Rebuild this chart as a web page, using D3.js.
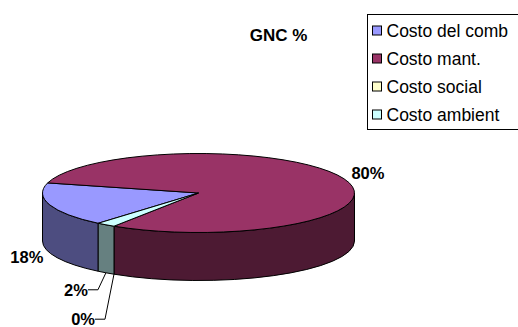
<!DOCTYPE html>
<html>
<head>
<meta charset="utf-8">
<script src="https://cdn.jsdelivr.net/npm/d3@7"></script>
<style>
  body { margin: 0; background: #fff; }
  text { font-family: "Liberation Sans", Arial, sans-serif; }
</style>
</head>
<body>
<svg id="chart"></svg>
<script>
// Chart data
const categories = ["Costo del comb", "Costo mant.", "Costo social", "Costo ambient"];
const values = [18, 80, 0, 2];
const valueLabels = ["18%", "80%", "0%", "2%"];
const topColors = ["#9999FF", "#993366", "#FFFFCC", "#CCFFFF"];
const sideColors = ["#4D4D80", "#4D1A33", "#808066", "#668080"];

const width = 518, height = 327;
const svg = d3.select("#chart").attr("width", width).attr("height", height);

// Ellipse geometry of the pie
const cx = 198.5, cy = 193, rx = 156, ry = 39.5, depth = 48;
const startDeg = 220;

const pie = d3.pie().sort(null).value(d => d)
    .startAngle(startDeg * Math.PI / 180)
    .endAngle(startDeg * Math.PI / 180 + 2 * Math.PI);
const slices = pie(values);

// project a compass angle (clockwise from 12 o'clock) onto the ellipse
const px = a => cx + rx * Math.sin(a);
const py = (a, dz = 0) => cy - ry * Math.cos(a) + dz;

function topPath(s) {
    const large = (s.endAngle - s.startAngle) > Math.PI ? 1 : 0;
    return `M${cx},${cy} L${px(s.startAngle)},${py(s.startAngle)} ` +
        `A${rx},${ry} 0 ${large} 1 ${px(s.endAngle)},${py(s.endAngle)} Z`;
}

// front wall pieces: the part of the arc in the lower half of the ellipse
function sidePaths(s) {
    const out = [];
    [Math.PI / 2, Math.PI * 2.5].forEach(lo => {
        const hi = lo + Math.PI;
        const a0 = Math.max(s.startAngle, lo), a1 = Math.min(s.endAngle, hi);
        if (a1 - a0 > 1e-4) {
            out.push(`M${px(a0)},${py(a0)} A${rx},${ry} 0 0 1 ${px(a1)},${py(a1)} ` +
                `L${px(a1)},${py(a1, depth)} A${rx},${ry} 0 0 0 ${px(a0)},${py(a0, depth)} Z`);
        }
    });
    return out;
}

// walls first, then the top faces
slices.forEach((s, i) => {
    sidePaths(s).forEach(p => {
        svg.append("path").attr("d", p)
            .attr("fill", sideColors[i])
            .attr("stroke", "#000").attr("stroke-width", 1)
            .attr("stroke-linejoin", "round");
    });
});
slices.forEach((s, i) => {
    if (s.endAngle - s.startAngle < 1e-4) return;
    svg.append("path").attr("d", topPath(s))
        .attr("fill", topColors[i])
        .attr("stroke", "#000").attr("stroke-width", 1)
        .attr("stroke-linejoin", "round");
});

// data labels: plain ones sit off the rim, leader ones hang below the wall
const labelOffsets = [
    { dx: -23, dy: 52, leader: false },
    { dx: 24, dy: -6, leader: false },
    { dx: -9, dy: 45, leader: true },
    { dx: -8, dy: 17, leader: true }
];
slices.forEach((s, i) => {
    const mid = (s.startAngle + s.endAngle) / 2;
    const ax = px(mid), ay = py(mid, depth);
    const o = labelOffsets[i];
    if (o.leader) {
        const tx = ax + o.dx, ty = ay + o.dy;
        svg.append("polyline")
            .attr("points", `${tx - 10},${ty} ${tx},${ty} ${ax},${ay}`)
            .attr("fill", "none").attr("stroke", "#000").attr("stroke-width", 1);
        svg.append("text")
            .attr("x", tx - 10).attr("y", ty + 6)
            .attr("text-anchor", "end")
            .attr("font-size", 16.5).attr("font-weight", "bold")
            .text(valueLabels[i]);
    } else {
        svg.append("text")
            .attr("x", px(mid) + o.dx).attr("y", py(mid) + o.dy + 6)
            .attr("text-anchor", "middle")
            .attr("font-size", 16.5).attr("font-weight", "bold")
            .text(valueLabels[i]);
    }
});

// title
svg.append("text")
    .attr("x", 278.5).attr("y", 41)
    .attr("text-anchor", "middle")
    .attr("font-size", 17).attr("font-weight", "bold")
    .text("GNC %");

// legend
const legend = svg.append("g").attr("transform", "translate(367.5,14.5)");
legend.append("rect")
    .attr("width", 152).attr("height", 115)
    .attr("fill", "#fff").attr("stroke", "#000").attr("stroke-width", 1);
const rowY = d3.scalePoint().domain(categories).range([16, 100]);
categories.forEach((c, i) => {
    const g = legend.append("g").attr("transform", `translate(0,${rowY(c)})`);
    g.append("rect")
        .attr("x", 5).attr("y", -4.5).attr("width", 9).attr("height", 9)
        .attr("fill", topColors[i]).attr("stroke", "#000").attr("stroke-width", 1);
    g.append("text")
        .attr("x", 19).attr("y", 6)
        .attr("font-size", 17.5)
        .text(c);
});
</script>
</body>
</html>
